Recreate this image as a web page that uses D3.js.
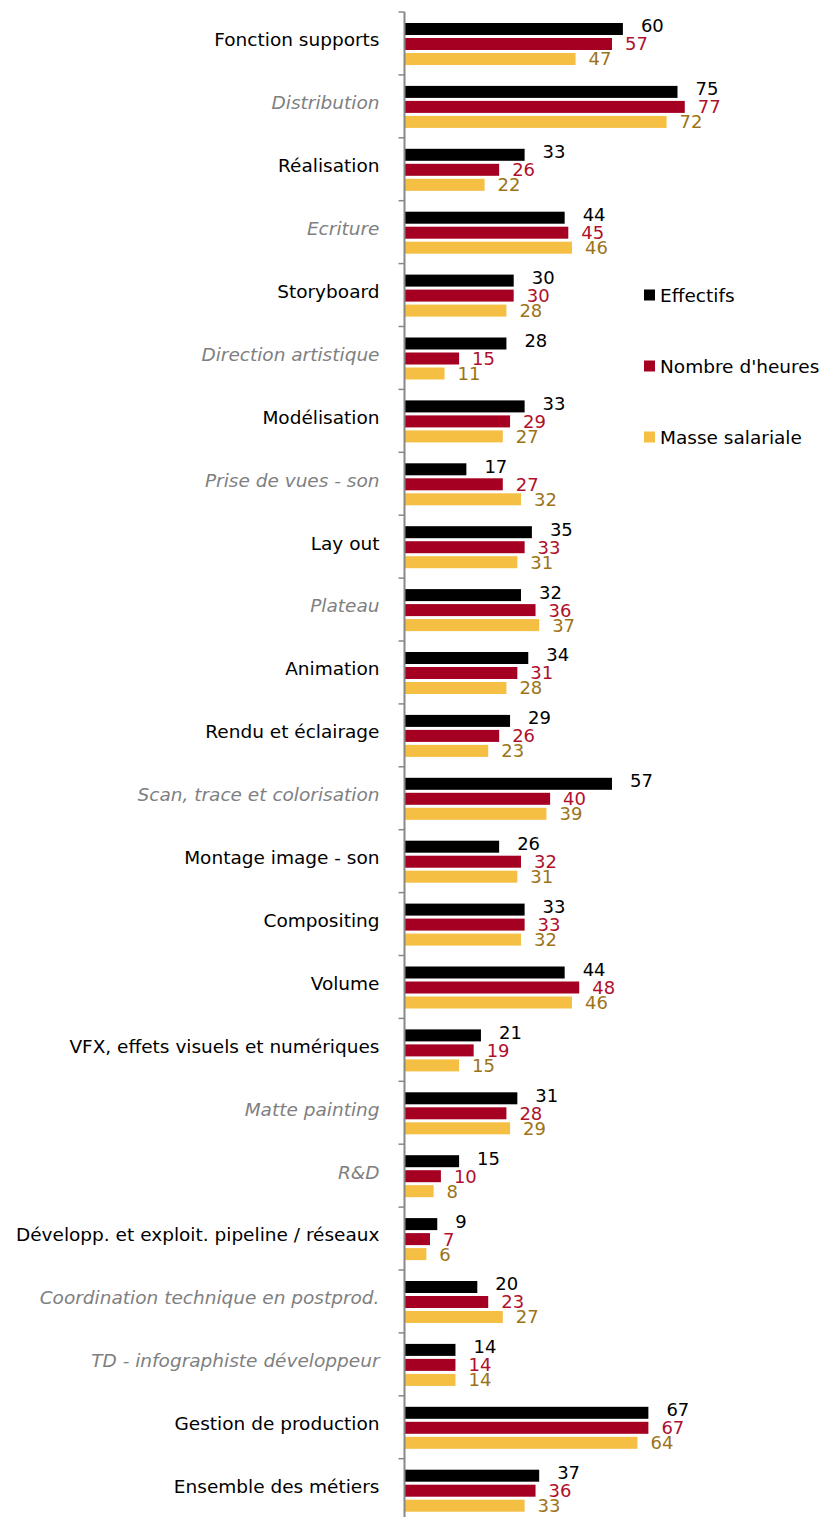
<!DOCTYPE html>
<meta charset="utf-8">
<style>
  body, html { margin: 0; padding: 0; background: #fff; }
  text { font-family: "DejaVu Sans", Verdana, sans-serif; }
</style>
<body>
<svg id="chart" width="823" height="1517"></svg>
<script src="https://d3js.org/d3.v7.min.js"></script>
<script>

var categories = [
  "Fonction supports", "Distribution", "Réalisation", "Ecriture", "Storyboard",
  "Direction artistique", "Modélisation", "Prise de vues - son", "Lay out", "Plateau",
  "Animation", "Rendu et éclairage", "Scan, trace et colorisation", "Montage image - son",
  "Compositing", "Volume", "VFX, effets visuels et numériques", "Matte painting", "R&D",
  "Développ. et exploit. pipeline / réseaux", "Coordination technique en postprod.",
  "TD - infographiste développeur", "Gestion de production", "Ensemble des métiers"
];

// categories shown in grey italics in the original
var italicCats = [
  "Distribution", "Ecriture", "Direction artistique", "Prise de vues - son", "Plateau",
  "Scan, trace et colorisation", "Matte painting", "R&D",
  "Coordination technique en postprod.", "TD - infographiste développeur"
];

var seriesNames = ["Effectifs", "Nombre d'heures", "Masse salariale"];

var effectifs      = [60, 75, 33, 44, 30, 28, 33, 17, 35, 32, 34, 29, 57, 26, 33, 44, 21, 31, 15, 9, 20, 14, 67, 37];
var nombreHeures   = [57, 77, 26, 45, 30, 15, 29, 27, 33, 36, 31, 26, 40, 32, 33, 48, 19, 28, 10, 7, 23, 14, 67, 36];
var masseSalariale = [47, 72, 22, 46, 28, 11, 27, 32, 31, 37, 28, 23, 39, 31, 32, 46, 15, 29, 8, 6, 27, 14, 64, 33];

var barColors   = ["#000000", "#a50021", "#f4bf42"];
var labelColors = ["#000000", "#b0102c", "#9c7418"];

var rows = categories.map(function(c, i) {
  return { cat: c, i: i, vals: [effectifs[i], nombreHeures[i], masseSalariale[i]] };
});

var svg = d3.select("#chart");
var axisX = 404.5;
var step = 62.9;

var y0 = d3.scaleBand()
  .domain(categories)
  .range([12, 12 + step * categories.length])
  .paddingInner(0).paddingOuter(0);

var y1 = d3.scaleBand()
  .domain(d3.range(3))
  .range([11, 53])
  .paddingInner(0.2);

var x = d3.scaleLinear()
  .domain([0, 80])
  .range([axisX, axisX + 291.2]);

var groups = svg.selectAll(".grp")
  .data(rows)
  .enter().append("g")
  .attr("class", "grp")
  .attr("transform", function(d) { return "translate(0," + y0(d.cat) + ")"; });

groups.selectAll("rect")
  .data(function(d) { return d.vals.map(function(v, k) { return { v: v, k: k }; }); })
  .enter().append("rect")
  .attr("x", x(0))
  .attr("y", function(d) { return y1(d.k); })
  .attr("width", function(d) { return x(d.v) - x(0); })
  .attr("height", y1.bandwidth())
  .attr("fill", function(d) { return barColors[d.k]; });

groups.selectAll(".val")
  .data(function(d) { return d.vals.map(function(v, k) { return { v: v, k: k }; }); })
  .enter().append("text")
  .attr("class", "val")
  .attr("x", function(d) { return x(d.v) + (d.k == 0 ? 18 : 13); })
  .attr("y", function(d) { return y1(d.k) + y1.bandwidth() / 2 - (d.k == 0 ? 3 : 0); })
  .attr("dy", "0.36em")
  .attr("fill", function(d) { return labelColors[d.k]; })
  .style("font-size", "18px")
  .text(function(d) { return d.v; });

// category axis
var yAxis = d3.axisLeft(y0).tickSize(0).tickPadding(25);
var ax = svg.append("g")
  .attr("transform", "translate(" + axisX + ",-3)")
  .call(yAxis);
ax.select(".domain").remove();
ax.selectAll(".tick text")
  .style("font-size", "18.5px")
  .style("font-family", "'DejaVu Sans', Verdana, sans-serif")
  .attr("fill", function(d) { return italicCats.indexOf(d) >= 0 ? "#808080" : "#000"; })
  .style("font-style", function(d) { return italicCats.indexOf(d) >= 0 ? "italic" : "normal"; });

svg.append("line")
  .attr("x1", axisX).attr("x2", axisX)
  .attr("y1", 12).attr("y2", 1517)
  .attr("stroke", "#888").attr("stroke-width", 2);

svg.selectAll(".btick")
  .data(d3.range(categories.length + 1))
  .enter().append("line")
  .attr("class", "btick")
  .attr("x1", axisX - 6).attr("x2", axisX)
  .attr("y1", function(i) { return 12 + i * step; })
  .attr("y2", function(i) { return 12 + i * step; })
  .attr("stroke", "#888").attr("stroke-width", 1.5);

// legend
var legend = svg.selectAll(".legend")
  .data(seriesNames)
  .enter().append("g")
  .attr("class", "legend")
  .attr("transform", function(d, i) { return "translate(644," + (295 + i * 71) + ")"; });

legend.append("rect")
  .attr("x", 0).attr("y", -5.5)
  .attr("width", 11).attr("height", 11)
  .attr("fill", function(d, i) { return barColors[i]; });

legend.append("text")
  .attr("x", 16)
  .attr("dy", "0.36em")
  .style("font-size", "18.5px")
  .text(function(d) { return d; });

</script>
</body>
